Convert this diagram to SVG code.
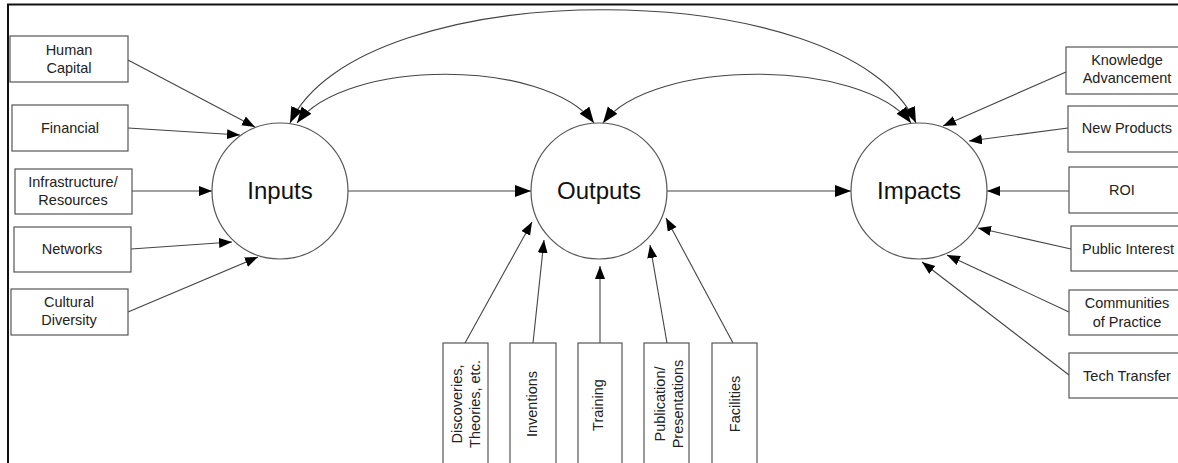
<svg xmlns="http://www.w3.org/2000/svg" width="1178" height="463" viewBox="0 0 1178 463">
<style>
.box{fill:#fff;stroke:#555;stroke-width:1.2}
.circ{fill:#fff;stroke:#555;stroke-width:1.2}
.t{font-family:"Liberation Sans",Arial,sans-serif;font-size:14.5px;fill:#222;text-anchor:middle}
.big{font-family:"Liberation Sans",Arial,sans-serif;font-size:24px;fill:#111;text-anchor:middle}
.c{fill:none;stroke:#444;stroke-width:1.1}
</style>
<defs>
<marker id="ah" markerUnits="userSpaceOnUse" markerWidth="14" markerHeight="11" refX="13" refY="5" orient="auto-start-reverse">
<path d="M0,0 L13,5 L0,10 z" fill="#000"/>
</marker>
<marker id="ahb" markerUnits="userSpaceOnUse" markerWidth="17" markerHeight="13" refX="16" refY="6" orient="auto-start-reverse">
<path d="M0,0 L16,6 L0,12 z" fill="#000"/>
</marker>
</defs>
<rect x="0" y="0" width="1178" height="463" fill="#fff"/>
<path d="M8,470 V4.5 H1180" fill="none" stroke="#111" stroke-width="2"/>

<g id="connectors">
<path class="c" d="M290,123 C360,-28 847,-28 916,123" marker-start="url(#ahb)" marker-end="url(#ahb)"/>
<path class="c" d="M297,123 C345,58 546,58 594,123" marker-start="url(#ahb)" marker-end="url(#ahb)"/>
<path class="c" d="M603,123 C652,58 862,58 911,123" marker-start="url(#ahb)" marker-end="url(#ahb)"/>
<line class="c" x1="348" y1="191" x2="531" y2="191" marker-end="url(#ahb)"/>
<line class="c" x1="667" y1="191" x2="851" y2="191" marker-end="url(#ahb)"/>
<line class="c" x1="128" y1="60" x2="255" y2="127" marker-end="url(#ah)"/>
<line class="c" x1="128" y1="128" x2="240" y2="135" marker-end="url(#ah)"/>
<line class="c" x1="132" y1="191" x2="212" y2="191" marker-end="url(#ah)"/>
<line class="c" x1="131" y1="249" x2="232" y2="242" marker-end="url(#ah)"/>
<line class="c" x1="128" y1="312" x2="258" y2="257" marker-end="url(#ah)"/>
<line class="c" x1="465" y1="343" x2="532" y2="222" marker-end="url(#ah)"/>
<line class="c" x1="533" y1="343" x2="544" y2="240" marker-end="url(#ah)"/>
<line class="c" x1="600" y1="343" x2="600" y2="266" marker-end="url(#ah)"/>
<line class="c" x1="667" y1="343" x2="650" y2="245" marker-end="url(#ah)"/>
<line class="c" x1="733" y1="343" x2="666" y2="218" marker-end="url(#ah)"/>
<line class="c" x1="1066" y1="72" x2="943" y2="126" marker-end="url(#ah)"/>
<line class="c" x1="1068" y1="128" x2="969" y2="141" marker-end="url(#ah)"/>
<line class="c" x1="1069" y1="191" x2="987" y2="191" marker-end="url(#ah)"/>
<line class="c" x1="1071" y1="249" x2="978" y2="228" marker-end="url(#ah)"/>
<line class="c" x1="1069" y1="312" x2="947" y2="255" marker-end="url(#ah)"/>
<line class="c" x1="1069" y1="375" x2="922" y2="262" marker-end="url(#ah)"/>
</g>

<g id="inputs"><circle class="circ" cx="280" cy="191" r="68"/><text class="big" x="280" y="199">Inputs</text></g>
<g id="outputs"><circle class="circ" cx="599" cy="191" r="68"/><text class="big" x="599" y="199">Outputs</text></g>
<g id="impacts"><circle class="circ" cx="919" cy="191" r="68"/><text class="big" x="919" y="199">Impacts</text></g>

<g id="human-capital"><rect class="box" x="10" y="36" width="118" height="46"/><text class="t" x="69" y="55">Human</text><text class="t" x="69" y="73">Capital</text></g>
<g id="financial"><rect class="box" x="12" y="105" width="116" height="46"/><text class="t" x="70" y="133">Financial</text></g>
<g id="infrastructure"><rect class="box" x="15" y="169" width="117" height="45"/><text class="t" x="73" y="187">Infrastructure/</text><text class="t" x="73" y="205">Resources</text></g>
<g id="networks"><rect class="box" x="14" y="227" width="117" height="45"/><text class="t" x="72" y="254">Networks</text></g>
<g id="cultural-diversity"><rect class="box" x="11" y="289" width="117" height="46"/><text class="t" x="69" y="307">Cultural</text><text class="t" x="69" y="325">Diversity</text></g>

<g id="knowledge"><rect class="box" x="1066" y="47" width="124" height="47"/><text class="t" x="1127" y="65">Knowledge</text><text class="t" x="1127" y="83">Advancement</text></g>
<g id="new-products"><rect class="box" x="1068" y="106" width="122" height="46"/><text class="t" x="1127" y="133">New Products</text></g>
<g id="roi"><rect class="box" x="1069" y="167" width="121" height="46"/><text class="t" x="1122" y="195">ROI</text></g>
<g id="public-interest"><rect class="box" x="1071" y="226" width="119" height="45"/><text class="t" x="1128" y="254">Public Interest</text></g>
<g id="communities"><rect class="box" x="1069" y="290" width="121" height="45"/><text class="t" x="1127" y="308">Communities</text><text class="t" x="1127" y="327">of Practice</text></g>
<g id="tech-transfer"><rect class="box" x="1069" y="353" width="121" height="45"/><text class="t" x="1127" y="381">Tech Transfer</text></g>

<g id="discoveries"><rect class="box" x="443" y="343" width="45" height="140"/><text class="t" transform="translate(462,404) rotate(-90)">Discoveries,</text><text class="t" transform="translate(480,404) rotate(-90)">Theories, etc.</text></g>
<g id="inventions"><rect class="box" x="510" y="343" width="46" height="140"/><text class="t" transform="translate(537,404) rotate(-90)">Inventions</text></g>
<g id="training"><rect class="box" x="578" y="343" width="44" height="140"/><text class="t" transform="translate(603,405) rotate(-90)">Training</text></g>
<g id="publication"><rect class="box" x="644" y="343" width="45" height="140"/><text class="t" transform="translate(665,404) rotate(-90)">Publication/</text><text class="t" transform="translate(683,404) rotate(-90)">Presentations</text></g>
<g id="facilities"><rect class="box" x="712" y="343" width="45" height="140"/><text class="t" transform="translate(740,404) rotate(-90)">Facilities</text></g>
</svg>
